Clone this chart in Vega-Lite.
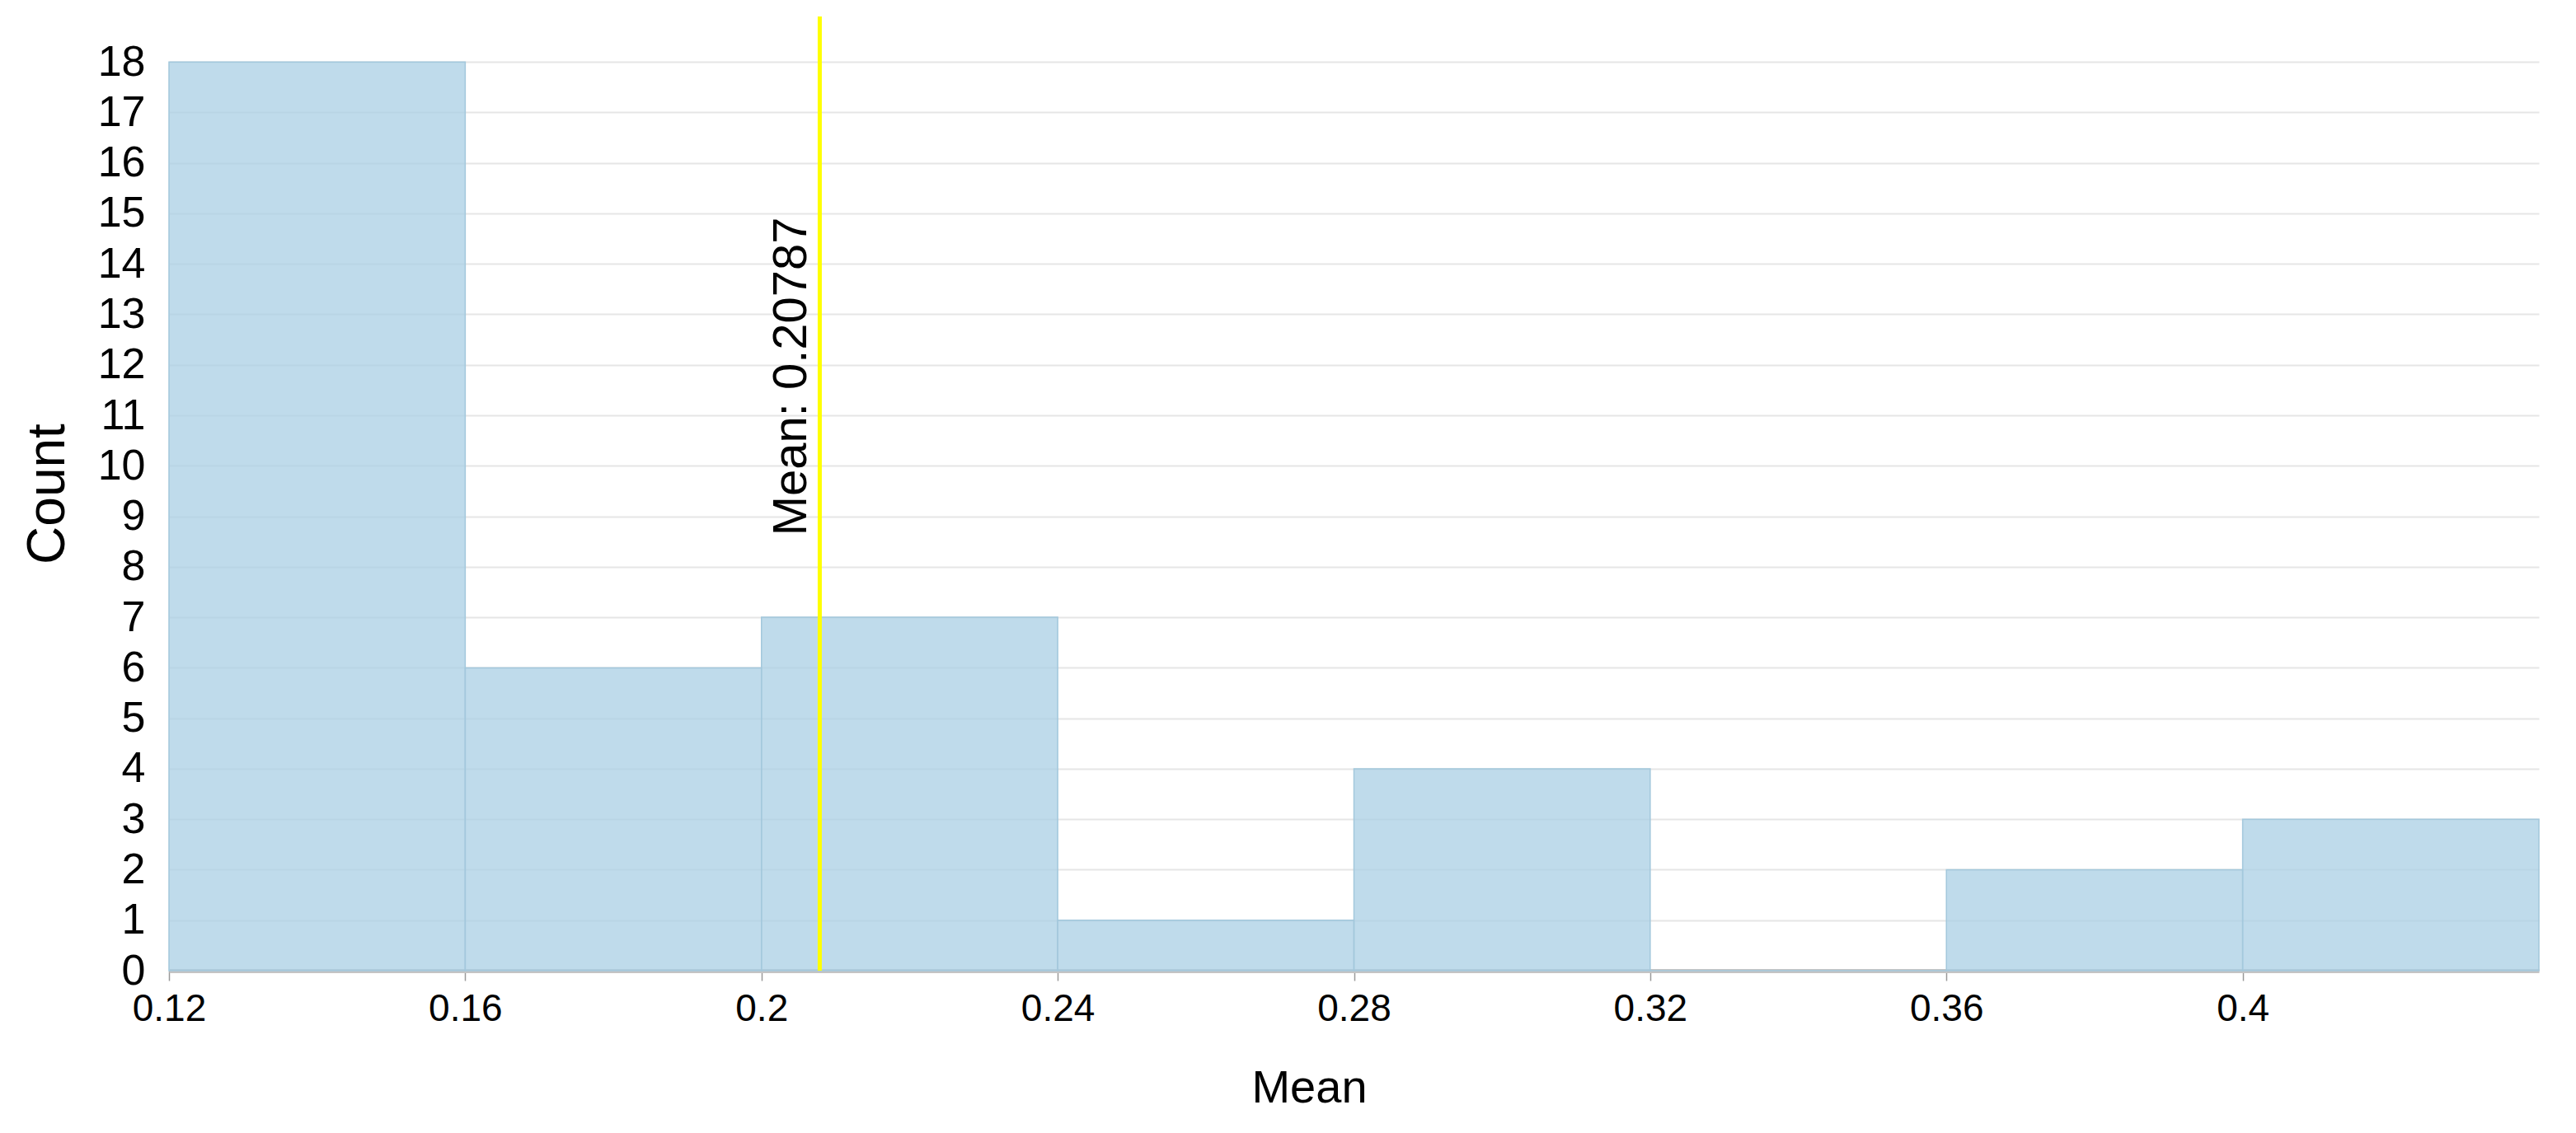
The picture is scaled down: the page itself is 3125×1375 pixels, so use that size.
{
  "$schema": "https://vega.github.io/schema/vega-lite/v6.json",
  "autosize": {"type": "none"},
  "width": 2875,
  "height": 1158,
  "padding": {"left": 205, "top": 20, "right": 45, "bottom": 197},
  "background": "white",
  "config": {
    "view": {"stroke": null},
    "font": "Liberation Sans",
    "axis": {"labelFont": "Liberation Sans", "titleFont": "Liberation Sans", "labelColor": "#000000", "titleColor": "#000000", "titleFontWeight": "normal"}
  },
  "datasets": {
    "bins": [
      {"bin_start": 0.12, "bin_end": 0.16, "count": 18},
      {"bin_start": 0.16, "bin_end": 0.20, "count": 6},
      {"bin_start": 0.20, "bin_end": 0.24, "count": 7},
      {"bin_start": 0.24, "bin_end": 0.28, "count": 1},
      {"bin_start": 0.28, "bin_end": 0.32, "count": 4},
      {"bin_start": 0.32, "bin_end": 0.36, "count": 0},
      {"bin_start": 0.36, "bin_end": 0.40, "count": 2},
      {"bin_start": 0.40, "bin_end": 0.44, "count": 3}
    ],
    "mean": [
      {"mean": 0.20787, "label": "Mean: 0.20787", "ymin": 0, "ymax": 18.9, "labelY": 11.77}
    ]
  },
  "layer": [
    {
      "data": {"name": "bins"},
      "mark": {"type": "bar", "fill": "#a9cfe4", "fillOpacity": 0.75, "stroke": "#a3c8dc", "strokeWidth": 1.5},
      "encoding": {
        "x": {
          "field": "bin_start", "type": "quantitative",
          "scale": {"domain": [0.12, 0.44], "nice": false, "zero": false},
          "axis": {
            "title": "Mean", "values": [0.12, 0.16, 0.2, 0.24, 0.28, 0.32, 0.36, 0.4], "format": "~g",
            "grid": false, "domainColor": "#c4c4c4", "domainWidth": 5,
            "tickColor": "#999999", "tickSize": 12, "tickWidth": 1.5,
            "labelFontSize": 46, "labelPadding": 12, "labelFlush": false,
            "titleFontSize": 56, "titlePadding": 46, "titleX": 1383
          }
        },
        "x2": {"field": "bin_end"},
        "y": {
          "field": "count", "type": "quantitative",
          "scale": {"domain": [0, 18.9], "nice": false},
          "axis": {
            "title": "Count", "values": [0,1,2,3,4,5,6,7,8,9,10,11,12,13,14,15,16,17,18], "format": "d",
            "grid": true, "gridColor": "#e6e6e6", "gridWidth": 2,
            "domain": false, "ticks": false,
            "labelFontSize": 52, "labelPadding": 29,
            "titleFontSize": 64, "titlePadding": 28
          }
        },
        "y2": {"datum": 0}
      }
    },
    {
      "data": {"name": "mean"},
      "mark": {"type": "rule", "color": "#ffff00", "strokeWidth": 5},
      "encoding": {
        "x": {"field": "mean", "type": "quantitative"},
        "y": {"field": "ymin", "type": "quantitative"},
        "y2": {"field": "ymax"}
      }
    },
    {
      "data": {"name": "mean"},
      "mark": {"type": "text", "angle": 270, "align": "center", "baseline": "bottom", "fontSize": 58, "font": "Liberation Sans", "color": "#000000", "dy": -4},
      "encoding": {
        "x": {"field": "mean", "type": "quantitative"},
        "y": {"field": "labelY", "type": "quantitative"},
        "text": {"field": "label"}
      }
    }
  ]
}
